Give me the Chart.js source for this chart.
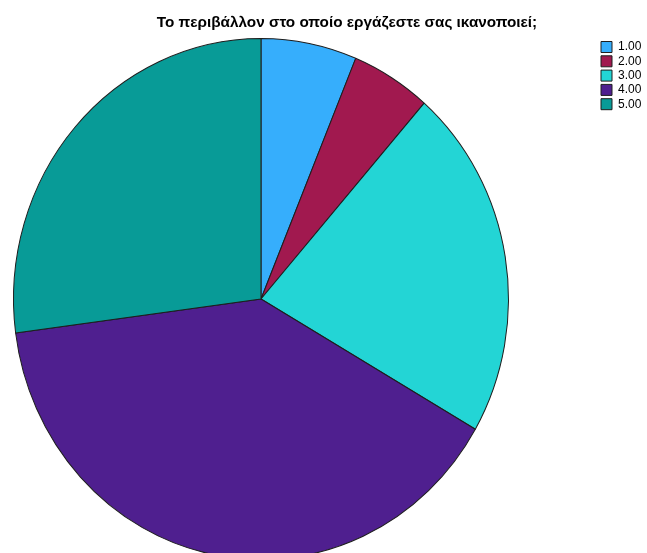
<!DOCTYPE html>
<html>
<head>
<meta charset="utf-8">
<script src="https://cdn.jsdelivr.net/npm/chart.js@4/dist/chart.umd.min.js"></script>
<style>html,body{margin:0;padding:0;background:#fff;overflow:hidden}</style>
</head>
<body>
<canvas id="pie" width="647" height="553"></canvas>
<script>
const chartTitle='Το περιβάλλον στο οποίο εργάζεστε σας ικανοποιεί;';
const labels=['1.00','2.00','3.00','4.00','5.00'];
const counts=[6,5,21,38,26];
const colors=['#36aefc','#a1194f','#23d5d5','#4f1f8f','#089b97'];

// where the pie sits; SPSS export is a little taller than wide
const PIE={cx:261,cy:299,rx:248,ry:261};
const LEG={x:601,y:41};

const placePie={
  id:'placePie',
  afterLayout(c){
    const a=c.chartArea;
    a.left=PIE.cx-PIE.rx;a.right=PIE.cx+PIE.rx;
    a.top=PIE.cy-PIE.rx;a.bottom=PIE.cy+PIE.rx;
    a.width=a.height=2*PIE.rx;
    const lg=c.legend,p=lg.options.labels.padding;
    lg.left=LEG.x-p;lg.top=LEG.y-p;
  },
  beforeDatasetsDraw(c){
    const x=c.ctx;x.save();
    x.translate(PIE.cx,PIE.cy);x.scale(1,PIE.ry/PIE.rx);x.translate(-PIE.cx,-PIE.cy);
  },
  afterDatasetsDraw(c){c.ctx.restore();}
};

new Chart(document.getElementById('pie'),{
  type:'pie',
  data:{labels,datasets:[{data:counts,backgroundColor:colors,borderColor:'#1e1e1e',borderWidth:1,clip:false}]},
  options:{
    responsive:false,animation:false,events:[],
    layout:{padding:{left:47}},
    plugins:{
      title:{display:true,text:chartTitle,color:'#000',
        font:{family:'"Liberation Sans", Arial, sans-serif',size:15.3,weight:'bold'},
        padding:{top:13.5,bottom:4}},
      legend:{position:'right',align:'start',
        labels:{boxWidth:11,boxHeight:11,padding:2.3,color:'#000',
          font:{family:'"Liberation Sans", Arial, sans-serif',size:12}}},
      tooltip:{enabled:false}
    }
  },
  plugins:[placePie]
});
</script>
</body>
</html>
